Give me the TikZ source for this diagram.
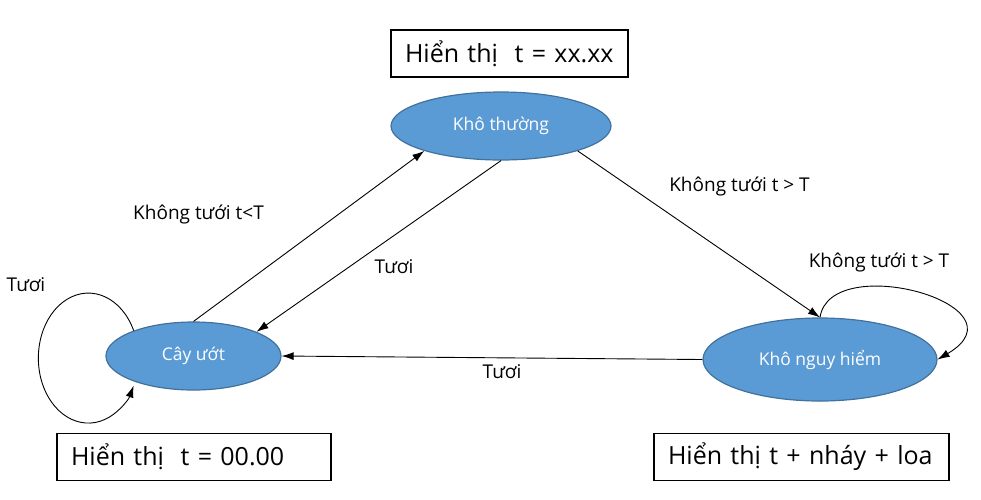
\documentclass[tikz,border=0pt]{standalone}
\usepackage{fontspec}
\setmainfont{Open Sans}
\usetikzlibrary{shapes.geometric,arrows.meta}
\definecolor{statefill}{HTML}{5B9BD5}
\definecolor{stateline}{HTML}{41719C}
\tikzset{
	state/.style={ellipse, draw=stateline, fill=statefill, line width=1.2pt, text=white, font=\fontsize{17.5}{20}\selectfont, inner sep=0pt},
	disp/.style={draw, line width=1.3pt, align=left, inner xsep=14pt, inner ysep=0pt, minimum height=47pt, font=\fontsize{25}{30}\selectfont},
	trans/.style={-{Latex[length=12pt,width=8pt]}, line width=0.9pt},
	lbl/.style={anchor=base, font=\fontsize{19}{22}\selectfont, inner sep=0pt},
}
\begin{document}
\begin{tikzpicture}[x=1pt,y=1pt]
		\useasboundingbox (0,0) rectangle (981,-499);
		
		\node[state, minimum width=220pt, minimum height=68pt] (kt) at (501,-126) {Khô thường};
		\node[state, minimum width=175pt, minimum height=68pt] (cay) at (193.5,-356) {Cây ướt};
		\node[state, minimum width=234pt, minimum height=83pt] (kn) at (820,-359.5) {Khô nguy hiểm};
		
		\node[disp, text width=209pt] (dkt) at (509.5,-53.5) {Hiển thị~ t = xx.xx};
		\node[disp, text width=246pt] (dcay) at (194,-457) {Hiển thị~ t = 00.00};
		\node[disp, text width=267pt] (dkn) at (801.5,-457) {Hiển thị t + nháy + loa};
		
		\draw[trans] (cay.north) -- (kt.198);
		\draw[trans] (kt.south) -- (cay.21);
		\draw[trans] (kt.-18) -- (kn.north);
		\draw[trans] (kn.west) -- (cay.east);
		\draw[trans] (cay.157) arc[start angle=25, end angle=335, x radius=50, y radius=65];
		\draw[trans] (kn.north) .. controls (830,-250) and (1030,-305) .. (kn.east);
		
		\node[lbl] (l1) at (198.5,-219) {Không tưới t<T};
		\node[lbl] (l2) at (394,-273) {Tươi};
		\node[lbl] (l3) at (739.5,-191) {Không tưới t > T};
		\node[lbl] (l4) at (879,-267) {Không tưới t > T};
		\node[lbl] (l5) at (502,-378) {Tươi};
		\node[lbl] (l6) at (26,-291) {Tươi};
\end{tikzpicture}
\end{document}
